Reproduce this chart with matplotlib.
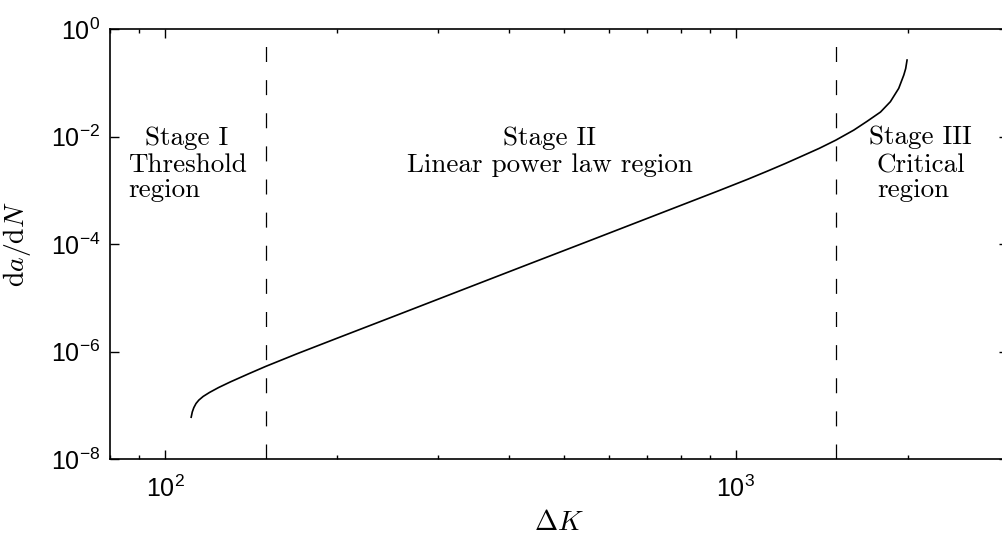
import math
import matplotlib
matplotlib.use('Agg')
from matplotlib import pyplot as plt
from matplotlib.ticker import LogLocator, FixedLocator, FuncFormatter, NullFormatter

# crack growth curve
delta_k = [111.0, 111.5, 112.2, 113.2, 114.5, 116.5, 119.5, 124, 130, 140,
           150, 170.2, 201.6, 254.6, 332.1, 434.9, 547.2, 713.8, 934.9, 1050,
           1136, 1220, 1299, 1400, 1496, 1610, 1699, 1793, 1866, 1930,
           1970, 1985, 1996]
growth_rate = [5.99e-8, 7.51e-8, 9.05e-8, 1.08e-7, 1.25e-7, 1.46e-7, 1.73e-7, 2.14e-7, 2.72e-7, 3.86e-7,
               5.30e-7, 9.11e-7, 1.83e-6, 4.76e-6, 1.42e-5, 4.30e-5, 1.10e-4, 3.28e-4, 9.95e-4, 1.62e-3,
               2.29e-3, 3.16e-3, 4.25e-3, 6.07e-3, 8.6e-3, 1.33e-2, 1.94e-2, 2.88e-2, 4.49e-2, 7.96e-2,
               0.141, 0.186, 0.268]

# stage boundaries
stage_limits = [150, 1500]

# region labels: (text, x, y baseline)
stage_labels = [
    ('Stage I', 92, 7.0e-3),
    ('Threshold', 86.2, 2.2e-3),
    ('region', 86, 7.5e-4),
    ('Stage II', 390, 7.0e-3),
    ('Linear power law region', 265, 2.2e-3),
    ('Stage III', 1711, 7.3e-3),
    ('Critical', 1767, 2.2e-3),
    ('region', 1767, 7.5e-4),
]

plt.rcParams['font.family'] = ['Liberation Sans', 'DejaVu Sans']
plt.rcParams['mathtext.fontset'] = 'cm'

fig = plt.figure(figsize=(10.03, 5.36), dpi=100)
ax = fig.add_axes([0.1097, 0.1437, 0.8953, 0.8016])

ax.plot(delta_k, growth_rate, color='k', lw=1.2)
for xv in stage_limits:
    ax.plot([xv, xv], [1e-8, 1], color='k', lw=0.9, dashes=(12, 14.5))

for txt, xv, yv in stage_labels:
    ax.text(xv, yv, txt, family='cmr10', fontsize=19.5, ha='left', va='baseline')

ax.set_xscale('log')
ax.set_yscale('log')
ax.set_xlim(80, 3000)
ax.set_ylim(1e-8, 1)

sup = FuncFormatter(lambda v, pos: r'$\mathregular{10^{%d}}$' % round(math.log10(v)))
ax.xaxis.set_major_locator(LogLocator(base=10))
ax.xaxis.set_minor_locator(LogLocator(base=10, subs=range(2, 10)))
ax.xaxis.set_major_formatter(sup)
ax.xaxis.set_minor_formatter(NullFormatter())
ax.yaxis.set_major_locator(FixedLocator([1e-8, 1e-6, 1e-4, 1e-2, 1]))
ax.yaxis.set_minor_locator(FixedLocator([]))
ax.yaxis.set_major_formatter(sup)

ax.tick_params(which='both', direction='in', top=True, right=True, labelsize=18, width=1.0)
ax.tick_params(which='major', length=6.5)
ax.tick_params(which='minor', length=3)
ax.tick_params(axis='y', pad=7)
ax.tick_params(axis='x', pad=12)
for s in ax.spines.values():
    s.set_linewidth(1.2)

ax.set_xlabel(r'$\Delta K$', fontsize=20, labelpad=6)
ax.set_ylabel(r'$\mathrm{d}a/\mathrm{d}N$', fontsize=20, labelpad=13)

fig.savefig('out.png', dpi=100)
